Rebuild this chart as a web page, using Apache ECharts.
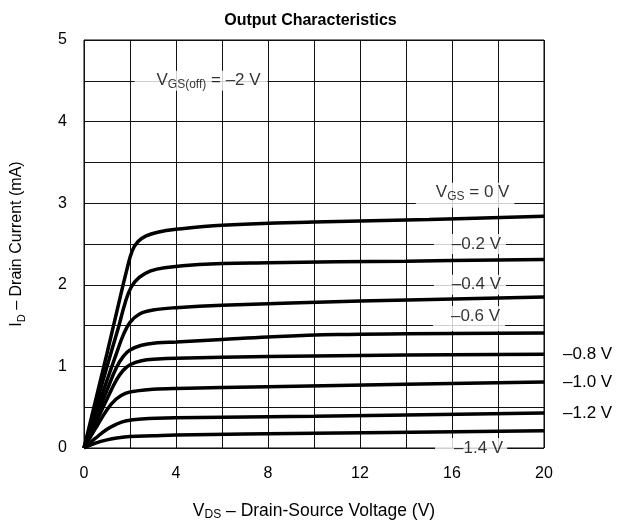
<!DOCTYPE html>
<html><head><meta charset="utf-8">
<script src="https://cdn.jsdelivr.net/npm/echarts@6/dist/echarts.min.js"></script>
<style>html,body{margin:0;padding:0;background:#fff}#c{width:621px;height:527px}</style>
</head><body><div id="c"></div>
<script>
// ---- data ----
const vgsNames = ['0 V', '–0.2 V', '–0.4 V', '–0.6 V', '–0.8 V', '–1.0 V', '–1.2 V', '–1.4 V'];
const curve0   = [[0,0],[0.5,0.58],[1,1.16],[1.5,1.76],[1.85,2.17],[2.1,2.42],[2.35,2.53],[2.7,2.6],[3.2,2.645],[4,2.68],[6,2.73],[10,2.77],[15,2.8],[20,2.84]];
const curve02  = [[0,0],[0.5,0.5],[1,1.0],[1.5,1.48],[1.8,1.79],[2.05,1.97],[2.4,2.09],[2.9,2.17],[3.5,2.21],[5,2.25],[8,2.27],[14,2.29],[20,2.31]];
const curve04  = [[0,0],[0.5,0.42],[1,0.83],[1.4,1.15],[1.7,1.38],[2,1.54],[2.4,1.64],[3,1.69],[4,1.72],[6,1.75],[12,1.8],[20,1.85]];
const curve06  = [[0,0],[0.5,0.36],[1,0.71],[1.4,0.98],[1.7,1.12],[2,1.2],[2.5,1.26],[3.2,1.29],[4,1.3],[6,1.33],[8,1.36],[11,1.39],[14,1.4],[20,1.41]];
const curve08  = [[0,0],[0.5,0.3],[1,0.6],[1.4,0.83],[1.7,0.95],[2,1.02],[2.5,1.07],[3.2,1.09],[4,1.1],[8,1.12],[14,1.14],[20,1.15]];
const curve10  = [[0,0],[0.5,0.24],[1,0.47],[1.4,0.6],[1.8,0.67],[2.3,0.7],[3,0.72],[4,0.73],[8,0.75],[14,0.78],[20,0.81]];
const curve12  = [[0,0],[0.5,0.12],[1,0.23],[1.4,0.29],[1.8,0.33],[2.5,0.355],[4,0.37],[10,0.39],[20,0.43]];
const curve14  = [[0,0],[0.5,0.06],[1,0.1],[1.5,0.125],[2,0.14],[3,0.15],[4,0.16],[10,0.18],[20,0.21]];
const curves = [curve0, curve02, curve04, curve06, curve08, curve10, curve12, curve14];
const xTicks = [0, 4, 8, 12, 16, 20];
const yTicks = [0, 1, 2, 3, 4, 5];
// in-plot annotation texts and their anchors (data units)
const noteTexts   = ['{m|V}{s|GS(off)}{m| = –2 V}', '{m|V}{s|GS}{m| = 0 V}', '{m|–0.2 V}', '{m|–0.4 V}', '{m|–0.6 V}', '{m|–1.4 V}'];
const noteAnchors = [[5.09, 4.5], [16.57, 3.0], [16.78, 2.5], [16.78, 2.0], [16.74, 1.5], [16.83, 0.0]];
// curves labelled at their right end, outside the plot
const endLabelled = [4, 5, 6];

const FONT = 'Liberation Sans, Arial, sans-serif';
const LBL = 17;
const rich = {
  m: { fontSize: LBL, fontFamily: FONT, color: '#000', lineHeight: 20, verticalAlign: 'middle' },
  s: { fontSize: 12, fontFamily: FONT, color: '#000', lineHeight: 13, verticalAlign: 'bottom', padding: [7, 0, 0, 0] }
};
const richX = {
  m: { fontSize: 17.5, fontFamily: FONT, color: '#000', lineHeight: 20, verticalAlign: 'middle' },
  s: { fontSize: 12, fontFamily: FONT, color: '#000', lineHeight: 13, verticalAlign: 'bottom', padding: [7, 0, 0, 0] }
};
const richY = {
  m: { fontSize: 16, fontFamily: FONT, color: '#000', lineHeight: 20, verticalAlign: 'middle' },
  s: { fontSize: 11, fontFamily: FONT, color: '#000', lineHeight: 12, verticalAlign: 'bottom', padding: [7, 0, 0, 0] }
};
const noteOffsets = [[0, 0], [0, -8], [0, 0], [0, 0], [0, -7], [0, 0]];
const notePadding = [[0, 7, 0, 22], [0, 5, 5, 20], [0, 5, 0, 18], [0, 5, 0, 18], [0, 5, 5, 18], [0, 4, 0, 19]];

const chart = echarts.init(document.getElementById('c'));
const series = curves.map((c, i) => ({
  type: 'line', name: vgsNames[i], data: c, showSymbol: false, symbol: 'none',
  smooth: 0.4, z: 5,
  lineStyle: { color: '#000', width: 3.5 },
  endLabel: endLabelled.includes(i) ? {
    show: true, formatter: vgsNames[i], distance: 19,
    fontSize: LBL, fontFamily: FONT, color: '#000'
  } : { show: false }
}));
series.push({
  type: 'scatter', z: 3, symbolSize: 0, silent: true,
  data: noteAnchors.map((a, i) => ({
    value: a,
    label: {
      show: true, position: 'inside', formatter: noteTexts[i], rich,
      backgroundColor: '#fff', padding: notePadding[i], offset: noteOffsets[i]
    }
  }))
});

chart.setOption({
  animation: false,
  title: {
    text: 'Output Characteristics', left: 'center', top: 8,
    textStyle: { fontSize: 16, fontWeight: 'bold', fontFamily: FONT, color: '#000' }
  },
  grid: { left: 84, right: 77, top: 40, bottom: 79, show: true, borderColor: '#000', borderWidth: 1, backgroundColor: '#fff' },
  xAxis: {
    type: 'value', min: 0, max: 20, interval: 2,
    axisLine: { show: false }, axisTick: { show: false },
    splitLine: { show: true, lineStyle: { color: '#111', width: 1 } },
    axisLabel: { fontSize: 16, fontFamily: FONT, color: '#000', margin: 18,
      formatter: v => xTicks.includes(v) ? String(v) : '' },
    name: '{m|V}{s|DS}{m| – Drain-Source Voltage (V)}', nameLocation: 'middle', nameGap: 53,
    nameTextStyle: { rich: richX }
  },
  yAxis: {
    type: 'value', min: 0, max: 5, interval: 0.5,
    axisLine: { show: false }, axisTick: { show: false },
    splitLine: { show: true, lineStyle: { color: '#111', width: 1 } },
    axisLabel: { fontSize: 16, fontFamily: FONT, color: '#000', margin: 17,
      formatter: v => yTicks.includes(v) ? String(v) : '' },
    name: '{m|I}{s|D}{m| – Drain Current (mA)}', nameLocation: 'middle', nameGap: 57,
    nameTextStyle: { rich: richY }
  },
  series
});
</script></body></html>
